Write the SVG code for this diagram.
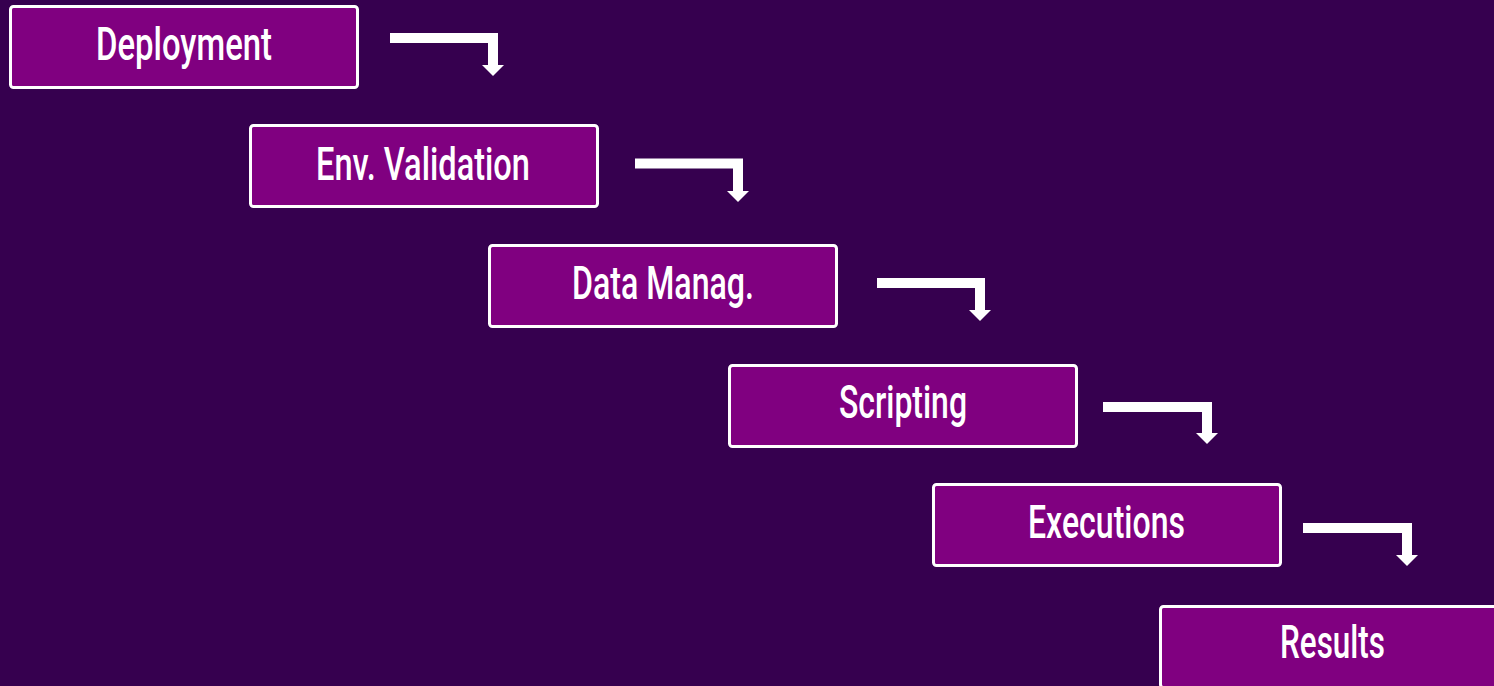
<svg xmlns="http://www.w3.org/2000/svg" width="1494" height="686" viewBox="0 0 1494 686">
<defs>
<style>
.box rect{fill:#800080;stroke:#ffffff;stroke-width:3}
.box text{fill:#ffffff;font-family:Roboto,"Liberation Sans",sans-serif;font-weight:500;font-size:46px;text-anchor:middle}
.conn path{fill:none;stroke:#ffffff;stroke-width:10;stroke-linejoin:miter;marker-end:url(#head)}
</style>
<marker id="head" markerUnits="userSpaceOnUse" markerWidth="12" markerHeight="22" refX="0" refY="10.5" orient="auto" viewBox="0 0 11 21">
<path d="M0,0 L10.5,10.5 L0,21 z" fill="#ffffff"/>
</marker>
</defs>
<rect x="0" y="0" width="1494" height="686" fill="#36004f"/>
<g id="n1" class="box"><rect x="10.5" y="6.5" width="347" height="81" rx="3"/><text x="184" y="60" textLength="176" lengthAdjust="spacingAndGlyphs">Deployment</text></g>
<g id="n2" class="box"><rect x="250.5" y="125.5" width="347" height="81" rx="3"/><text x="423" y="180" textLength="214" lengthAdjust="spacingAndGlyphs">Env. Validation</text></g>
<g id="n3" class="box"><rect x="489.5" y="245.5" width="347" height="81" rx="3"/><text x="663" y="299" textLength="182" lengthAdjust="spacingAndGlyphs">Data Manag.</text></g>
<g id="n4" class="box"><rect x="729.5" y="365.5" width="347" height="81" rx="3"/><text x="903" y="418" textLength="128" lengthAdjust="spacingAndGlyphs">Scripting</text></g>
<g id="n5" class="box"><rect x="933.5" y="484.5" width="347" height="81" rx="3"/><text x="1106.5" y="538" textLength="157" lengthAdjust="spacingAndGlyphs">Executions</text></g>
<g id="n6" class="box"><rect x="1160.5" y="606.5" width="347" height="81" rx="3"/><text x="1332.5" y="658" textLength="105" lengthAdjust="spacingAndGlyphs">Results</text></g>
<g id="connectors" class="conn">
<path d="M390 38 H493 V65"/>
<path d="M635 163.5 H738 V191"/>
<path d="M877 283 H980 V310"/>
<path d="M1103 407 H1207 V433"/>
<path d="M1303 528 H1407 V555"/>
</g>
</svg>
